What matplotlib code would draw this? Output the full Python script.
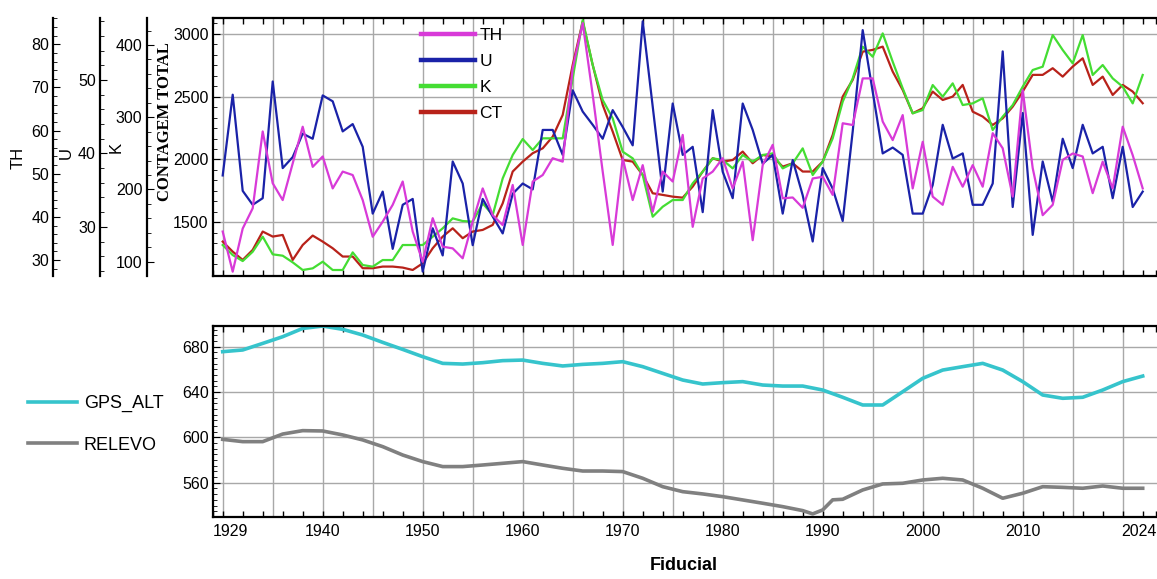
import numpy as np
import matplotlib.pyplot as plt
from matplotlib.ticker import MultipleLocator, AutoMinorLocator

plt.rcParams['font.family'] = ['Liberation Sans', 'DejaVu Sans']

# fiducial positions of the gamma-spectrometry samples
fiducial = list(range(1930, 2023))

th = [36.6, 27.3, 37.3, 42.0, 59.8, 47.8, 43.9, 52.4, 60.9, 51.6,
      54.0, 46.6, 50.5, 49.7, 43.9, 35.4, 38.9, 42.8, 48.2, 36.6,
      29.6, 39.7, 33.1, 32.7, 30.4, 38.9, 46.6, 40.4, 38.1, 47.4,
      33.5, 48.2, 49.7, 53.6, 52.8, 74.4, 84.9, 68.3, 50.5, 33.5,
      53.6, 43.9, 52.0, 41.2, 50.5, 48.2, 59.0, 37.7, 48.9, 50.5,
      53.6, 46.6, 52.8, 34.6, 52.0, 56.7, 44.3, 44.5, 42.1, 48.9,
      49.3, 45.1, 61.7, 61.3, 72.1, 72.1, 62.1, 57.8, 63.6, 46.6,
      57.4, 44.7, 42.8, 51.6, 47.0, 52.0, 47.0, 59.4, 55.9, 44.7,
      69.4, 51.3, 40.4, 42.8, 53.2, 54.7, 54.0, 45.5, 52.8, 46.6,
      60.9, 54.3, 46.6]

u = [37.0, 48.0, 34.9, 33.0, 33.9, 49.8, 38.0, 39.5, 42.7, 42.0,
     47.9, 47.1, 43.0, 44.0, 40.9, 31.8, 34.8, 27.0, 33.0, 33.8,
     23.9, 29.8, 26.1, 38.9, 35.9, 27.5, 33.8, 31.4, 29.1, 34.5,
     35.9, 35.1, 43.2, 43.2, 39.8, 48.6, 45.7, 43.9, 42.0, 45.9,
     43.6, 41.1, 58.0, 46.4, 34.8, 46.8, 39.8, 40.9, 32.0, 45.9,
     37.5, 33.9, 46.8, 43.2, 38.6, 39.8, 31.8, 39.1, 34.3, 28.0,
     38.0, 35.2, 30.8, 43.0, 56.8, 48.4, 40.0, 40.8, 39.8, 31.8,
     31.8, 35.7, 43.9, 39.3, 40.0, 33.0, 33.0, 35.9, 53.9, 32.7,
     45.5, 28.9, 38.9, 33.4, 42.0, 38.0, 43.9, 40.0, 40.9, 33.9,
     40.9, 32.7, 34.8]

k = [123.1, 109.2, 100.9, 113.8, 134.6, 110.2, 108.3, 99.1, 88.5, 90.8,
     100.0, 88.5, 88.5, 112.9, 95.4, 93.1, 102.3, 102.3, 123.1, 123.1,
     123.1, 134.6, 146.2, 160.0, 156.3, 155.4, 180.8, 164.6, 215.4, 247.7,
     269.8, 254.6, 270.8, 270.8, 270.8, 353.8, 434.6, 372.3, 323.8, 298.5,
     252.3, 243.1, 220.0, 162.3, 176.1, 185.4, 185.4, 208.5, 224.6, 243.1,
     240.8, 229.2, 247.7, 238.5, 247.7, 250.0, 229.2, 236.1, 256.9, 220.0,
     238.5, 270.8, 321.5, 353.8, 397.7, 383.8, 416.1, 376.9, 340.0, 305.4,
     310.0, 344.6, 328.5, 346.9, 316.9, 319.2, 326.2, 282.3, 300.8, 316.9,
     342.3, 365.4, 370.0, 413.8, 393.1, 374.6, 413.8, 358.5, 372.3, 353.8,
     342.3, 319.2, 358.5]

ct = [1346, 1266, 1200, 1280, 1426, 1386, 1399, 1200, 1319, 1394,
      1346, 1293, 1227, 1227, 1134, 1134, 1147, 1147, 1139, 1120,
      1173, 1293, 1386, 1452, 1373, 1426, 1439, 1479, 1651, 1904,
      1983, 2050, 2089, 2182, 2355, 2753, 3098, 2753, 2435, 2222,
      1996, 1983, 1877, 1731, 1718, 1704, 1696, 1784, 1904, 2010,
      1983, 1996, 2063, 1970, 2036, 2023, 1943, 1970, 1904, 1904,
      1983, 2196, 2501, 2634, 2859, 2873, 2899, 2700, 2554, 2368,
      2408, 2541, 2474, 2501, 2594, 2381, 2342, 2275, 2328, 2421,
      2541, 2674, 2674, 2727, 2660, 2740, 2806, 2594, 2660, 2514,
      2594, 2541, 2448]

# altimetry (every 2 fiducials)
fid_alt = list(range(1930, 2023, 2))
gps_alt = [675.6, 677.1, 682.9, 688.8, 696.1, 698.2, 695.3, 690.3, 683.8, 677.6,
           671.2, 665.3, 664.7, 665.9, 667.7, 668.2, 665.3, 663.0, 664.4, 665.3,
           666.8, 662.4, 656.5, 650.6, 647.1, 648.3, 649.2, 646.2, 645.3, 645.3,
           641.8, 635.4, 628.6, 628.6, 640.3, 652.1, 659.4, 662.4, 665.3, 659.4,
           649.2, 637.4, 634.5, 635.4, 641.8, 649.2, 654.1]
fid_rel = [1930, 1932, 1934, 1936, 1938, 1940, 1942, 1944, 1946, 1948,
           1950, 1952, 1954, 1956, 1958, 1960, 1962, 1964, 1966, 1968,
           1970, 1972, 1974, 1976, 1978, 1980, 1982, 1984, 1986, 1988,
           1989, 1990, 1991, 1992, 1994, 1996, 1998, 2000, 2002, 2004,
           2006, 2008, 2010, 2012, 2014, 2016, 2018, 2020, 2022]
relevo = [598.3, 596.3, 596.3, 603.0, 606.0, 605.7, 602.2, 597.8, 591.9, 584.5,
          578.7, 574.3, 574.3, 575.7, 577.2, 578.7, 575.7, 572.8, 570.4, 570.4,
          569.9, 564.0, 556.6, 552.2, 550.2, 547.8, 544.9, 542.0, 539.0, 535.5,
          532.6, 536.1, 545.0, 545.5, 553.7, 559.0, 559.6, 562.5, 564.0, 562.5,
          555.2, 546.4, 550.8, 556.6, 556.0, 555.2, 557.2, 555.2, 555.2]

xtick_pos = [1929, 1940, 1950, 1960, 1970, 1980, 1990, 2000, 2010, 2023.35]
xtick_lab = ['1929', '1940', '1950', '1960', '1970', '1980', '1990', '2000', '2010', '2024']

c_th, c_u, c_k, c_ct = '#d83ad8', '#1a22a8', '#44dd33', '#b8221a'
c_gps, c_rel = '#36c4cc', '#808080'
grid_c = '#a8a8a8'
fs = 11.5

fig = plt.figure(figsize=(11.57, 5.79), dpi=100)
W, H = 1157, 579
left = 212.7 / W
width = 950 / W
ax = fig.add_axes([left, 1 - 276 / H, width, (276 - 18) / H])
ax2 = fig.add_axes([left, 1 - 517.3 / H, width, (517.3 - 325.7) / H])


def px2pt(p):
    return p * 72 / 100


def style_x(a):
    a.set_xlim(1929, 2024)
    a.xaxis.set_minor_locator(MultipleLocator(2))
    a.tick_params(axis='x', which='both', direction='in', top=True, bottom=True,
                  length=4, width=1)
    for x in range(1930, 2021, 5):
        a.axvline(x, color=grid_c, lw=1, zorder=0)
    for s in a.spines.values():
        s.set_linewidth(1.6)


# ---- top panel ----
style_x(ax)
ax.set_xticks(xtick_pos)
ax.tick_params(axis='x', labelbottom=False)
ax.set_ylim(1072, 3127)
ax.set_yticks([1500, 2000, 2500, 3000])
ax.yaxis.set_minor_locator(AutoMinorLocator(6))
ax.tick_params(axis='y', which='both', direction='in', labelsize=fs, pad=3)
ax.tick_params(axis='y', which='minor', length=3)
ax.tick_params(axis='y', which='major', length=5)
ax.grid(True, axis='y', color=grid_c, lw=1, zorder=0)
ax.plot(fiducial, ct, color=c_ct, lw=1.6, zorder=3)

twins = []
for vals, col, lim, ticks, off in [
        (k, c_k, (80.2, 437.4), [100, 200, 300, 400], 66),
        (u, c_u, (23.3, 58.45), [30, 40, 50], 112.7),
        (th, c_th, (26.3, 86.1), [30, 40, 50, 60, 70, 80], 159.4)]:
    tw = ax.twinx()
    tw.patch.set_visible(False)
    tw.set_ylim(*lim)
    tw.set_yticks(ticks)
    tw.yaxis.set_minor_locator(AutoMinorLocator(5))
    tw.yaxis.set_ticks_position('left')
    tw.yaxis.set_label_position('left')
    tw.spines['left'].set_position(('outward', px2pt(off)))
    tw.spines['left'].set_visible(True)
    tw.spines['left'].set_linewidth(1.6)
    for s in ['right', 'top', 'bottom']:
        tw.spines[s].set_visible(False)
    tw.tick_params(axis='y', which='both', direction='in', labelsize=fs, pad=3)
    tw.tick_params(axis='y', which='minor', length=3)
    tw.tick_params(axis='y', which='major', length=5)
    tw.plot(fiducial, vals, color=col, lw=1.6)
    twins.append(tw)

# axis titles of the stacked left axes
fig.text(18 / W, 1 - 158 / H, 'TH', rotation=90, ha='center', va='center', fontsize=fs + 0.5)
fig.text(66 / W, 1 - 153 / H, 'U', rotation=90, ha='center', va='center', fontsize=fs + 0.5)
fig.text(116 / W, 1 - 147 / H, 'K', rotation=90, ha='center', va='center', fontsize=fs + 0.5)
fig.text(165 / W, 1 - 122 / H, 'CONTAGEM TOTAL', rotation=90, ha='center', va='center',
         fontsize=12, fontweight='bold', family=['Liberation Serif', 'DejaVu Serif'])

handles = [plt.Line2D([], [], color=c, lw=3.2) for c in (c_th, c_u, c_k, c_ct)]
fig.legend(handles, ['TH', 'U', 'K', 'CT'], loc='upper left',
           bbox_to_anchor=(421 / W, 1 - 28 / H), frameon=False, fontsize=fs + 1,
           handlelength=3.1, handletextpad=0.25, labelspacing=0.62,
           borderpad=0, borderaxespad=0)

# ---- bottom panel ----
style_x(ax2)
ax2.set_xticks(xtick_pos)
ax2.set_xticklabels(xtick_lab)
ax2.tick_params(axis='x', labelsize=fs, pad=5)
lbls = ax2.get_xticklabels()
lbls[0].set_ha('left')
lbls[-1].set_ha('right')
ax2.set_ylim(529.6, 698.5)
ax2.set_yticks([560, 600, 640, 680])
ax2.yaxis.set_minor_locator(MultipleLocator(5))
ax2.tick_params(axis='y', which='both', direction='in', labelsize=fs, pad=3)
ax2.tick_params(axis='y', which='minor', length=3)
ax2.tick_params(axis='y', which='major', length=5)
ax2.grid(True, axis='y', color=grid_c, lw=1, zorder=0)
l1, = ax2.plot(fid_alt, gps_alt, color=c_gps, lw=2.6)
l2, = ax2.plot(fid_rel, relevo, color=c_rel, lw=2.6)
fig.legend([l1, l2], ['GPS_ALT', 'RELEVO'], loc='upper left',
           bbox_to_anchor=(28 / W, 1 - 395 / H), frameon=False, fontsize=fs + 1.5,
           handlelength=2.7, handletextpad=0.4, labelspacing=1.35,
           borderpad=0, borderaxespad=0)

fig.text(684 / W, 1 - 566 / H, 'Fiducial', ha='center', va='center',
         fontsize=13, fontweight='bold')

fig.savefig('out.png', dpi=100, facecolor='white')
